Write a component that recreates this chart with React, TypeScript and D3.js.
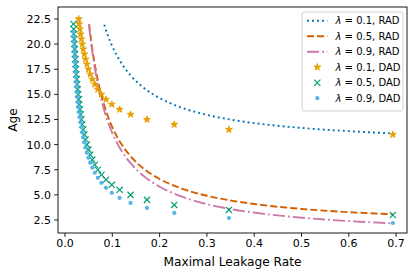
import React from "react";
import * as d3 from "d3";

// Discrete (DAD) leakage rates, shared by the three DAD series
const leakageRates = [
  0.6931, 0.3466, 0.231, 0.1733, 0.1386, 0.1155, 0.099, 0.0866, 0.077, 0.0693,
  0.063, 0.0578, 0.0533, 0.0495, 0.0462, 0.0433, 0.0408, 0.0385, 0.0365, 0.0347,
  0.033, 0.0315, 0.0301, 0.0289, 0.0277, 0.0267, 0.0257, 0.0248, 0.0239, 0.0231,
  0.0224, 0.0217, 0.021, 0.0204, 0.0198, 0.0193, 0.0187, 0.0182, 0.0178,
];
const ageDadL01 = [
  11.0, 11.5, 12.0, 12.5, 13.0, 13.5, 14.0, 14.5, 15.0, 15.5, 16.0, 16.5, 17.0,
  17.5, 18.0, 18.5, 19.0, 19.5, 20.0, 20.5, 21.0, 21.5, 22.0, 22.5,
];
const ageDadL05 = [
  3.0, 3.5, 4.0, 4.5, 5.0, 5.5, 6.0, 6.5, 7.0, 7.5, 8.0, 8.5, 9.0, 9.5, 10.0,
  10.5, 11.0, 11.5, 12.0, 12.5, 13.0, 13.5, 14.0, 14.5, 15.0, 15.5, 16.0, 16.5,
  17.0, 17.5, 18.0, 18.5, 19.0, 19.5, 20.0, 20.5, 21.0, 21.5, 22.0,
];
const ageDadL09 = [
  2.2, 2.7, 3.2, 3.7, 4.2, 4.7, 5.2, 5.7, 6.2, 6.7, 7.2, 7.7, 8.2, 8.7, 9.2,
  9.7, 10.2, 10.7, 11.2, 11.7, 12.2, 12.7, 13.2, 13.7, 14.2, 14.7, 15.2, 15.7,
  16.2, 16.7, 17.2, 17.7, 18.2, 18.7, 19.2, 19.7, 20.2, 20.7, 21.2,
];

// Continuous (RAD) curves
const radRateL01 = [0.083, 0.09, 0.1, 0.12, 0.14, 0.17, 0.2, 0.25, 0.3, 0.35, 0.4, 0.45, 0.5, 0.55, 0.6, 0.65, 0.693];
const radAgeL01 = [21.93, 20.93, 19.77, 18.04, 16.81, 15.52, 14.63, 13.62, 12.96, 12.49, 12.14, 11.87, 11.66, 11.48, 11.34, 11.21, 11.12];
const radRateL05 = [0.051, 0.055, 0.06, 0.07, 0.08, 0.09, 0.1, 0.12, 0.14, 0.17, 0.2, 0.25, 0.3, 0.35, 0.4, 0.5, 0.6, 0.693];
const radAgeL05 = [21.99, 20.45, 18.82, 16.27, 14.37, 12.9, 11.73, 10.0, 8.77, 7.47, 6.58, 5.57, 4.91, 4.44, 4.09, 3.6, 3.28, 3.07];
const radRateL09 = [0.0505, 0.055, 0.06, 0.07, 0.08, 0.09, 0.1, 0.12, 0.14, 0.17, 0.2, 0.25, 0.3, 0.35, 0.4, 0.5, 0.6, 0.693];
const radAgeL09 = [21.99, 20.18, 18.49, 15.85, 13.88, 12.36, 11.15, 9.35, 8.08, 6.74, 5.81, 4.77, 4.08, 3.59, 3.23, 2.73, 2.39, 2.17];

const xTicks = [0.0, 0.1, 0.2, 0.3, 0.4, 0.5, 0.6, 0.7];
const yTicks = [2.5, 5.0, 7.5, 10.0, 12.5, 15.0, 17.5, 20.0, 22.5];
const legendLambdas = ["0.1", "0.5", "0.9", "0.1", "0.5", "0.9"];
const legendKinds = ["RAD", "RAD", "RAD", "DAD", "DAD", "DAD"];

const W = 415, H = 277;
const L = 58, R = 407, T = 7, B = 233;
const FONT = "'DejaVu Sans', sans-serif";

const C_BLUE = "#0072B2", C_VERM = "#D55E00", C_PINK = "#CC79A7";
const C_ORANGE = "#E69F00", C_GREEN = "#009E73", C_SKY = "#56B4E9";
const LW = 1.9;

function starPath(cx: number, cy: number, r: number) {
  const ri = r * 0.382;
  const pts: [number, number][] = [];
  for (let i = 0; i < 10; i++) {
    const a = -Math.PI / 2 + (i * Math.PI) / 5;
    const rr = i % 2 === 0 ? r : ri;
    pts.push([cx + rr * Math.cos(a), cy + rr * Math.sin(a)]);
  }
  return "M" + pts.map((p) => p[0].toFixed(2) + "," + p[1].toFixed(2)).join("L") + "Z";
}

function Star({ x, y }: { x: number; y: number }) {
  return <path d={starPath(x, y, 3.6)} fill={C_ORANGE} stroke={C_ORANGE} strokeWidth={0.9} strokeLinejoin="miter" />;
}
function Cross({ x, y }: { x: number; y: number }) {
  const s = 3.1;
  return (
    <path d={`M${x - s},${y - s}L${x + s},${y + s}M${x - s},${y + s}L${x + s},${y - s}`} stroke={C_GREEN} strokeWidth={1.2} fill="none" />
  );
}
function Dot({ x, y }: { x: number; y: number }) {
  return <circle cx={x} cy={y} r={2.1} fill={C_SKY} />;
}

export default function App() {
  const x = d3.scaleLinear().domain([-0.0148, 0.723]).range([L, R]);
  const y = d3.scaleLinear().domain([1.206, 23.69]).range([B, T]);

  const line = d3
    .line<[number, number]>()
    .x((d) => x(d[0]))
    .y((d) => y(d[1]))
    .curve(d3.curveMonotoneX);

  const zip = (a: number[], b: number[]) => a.map((v, i) => [v, b[i]] as [number, number]);

  const legendY = (i: number) => 20.7 + i * 15.5;

  return (
    <svg width={W} height={H} style={{ position: "absolute", left: 0, top: 0, background: "#fff" }} fontFamily={FONT}>
      <rect x={0} y={0} width={W} height={H} fill="#fff" />
      {/* RAD curves */}
      <path d={line(zip(radRateL01, radAgeL01)) || ""} fill="none" stroke={C_BLUE} strokeWidth={LW} strokeDasharray={`${LW},${LW * 1.65}`} />
      <path d={line(zip(radRateL05, radAgeL05)) || ""} fill="none" stroke={C_VERM} strokeWidth={LW} strokeDasharray={`${LW * 3.7},${LW * 1.6}`} />
      <path d={line(zip(radRateL09, radAgeL09)) || ""} fill="none" stroke={C_PINK} strokeWidth={LW} strokeDasharray={`${LW * 6.4},${LW * 1.6},${LW},${LW * 1.6}`} />
      {/* DAD points */}
      {ageDadL01.map((a, i) => <Star key={"s" + i} x={x(leakageRates[i])} y={y(a)} />)}
      {ageDadL05.map((a, i) => <Cross key={"c" + i} x={x(leakageRates[i])} y={y(a)} />)}
      {ageDadL09.map((a, i) => <Dot key={"d" + i} x={x(leakageRates[i])} y={y(a)} />)}

      {/* frame */}
      <rect x={L} y={T} width={R - L} height={B - T} fill="none" stroke="#000" strokeWidth={0.9} />

      {/* x ticks */}
      {xTicks.map((t) => (
        <g key={"xt" + t}>
          <line x1={x(t)} x2={x(t)} y1={B} y2={B + 3.8} stroke="#000" strokeWidth={0.9} />
          <text x={x(t)} y={247.3} fontSize={11} textAnchor="middle" fill="#000">{t.toFixed(1)}</text>
        </g>
      ))}
      {/* y ticks */}
      {yTicks.map((t) => (
        <g key={"yt" + t}>
          <line x1={L - 3.8} x2={L} y1={y(t)} y2={y(t)} stroke="#000" strokeWidth={0.9} />
          <text x={51} y={y(t)} dy={4} fontSize={11} textAnchor="end" fill="#000">{t.toFixed(1)}</text>
        </g>
      ))}
      <text x={(L + R) / 2} y={266} fontSize={12.2} textAnchor="middle" fill="#000">Maximal Leakage Rate</text>
      <text transform={`translate(17,${(T + B) / 2}) rotate(-90)`} fontSize={12.2} textAnchor="middle" fill="#000">Age</text>

      {/* legend */}
      <rect x={302} y={12} width={101} height={99} rx={2.5} fill="#fff" fillOpacity={0.8} stroke="#ccc" strokeWidth={0.9} />
      <line x1={307} x2={327.5} y1={legendY(0)} y2={legendY(0)} stroke={C_BLUE} strokeWidth={LW} strokeDasharray={`${LW},${LW * 1.65}`} />
      <line x1={307} x2={327.5} y1={legendY(1)} y2={legendY(1)} stroke={C_VERM} strokeWidth={LW} strokeDasharray={`${LW * 3.7},${LW * 1.6}`} />
      <line x1={307} x2={327.5} y1={legendY(2)} y2={legendY(2)} stroke={C_PINK} strokeWidth={LW} strokeDasharray={`${LW * 6.4},${LW * 1.6},${LW},${LW * 1.6}`} />
      <Star x={317.3} y={legendY(3)} />
      <Cross x={317.3} y={legendY(4)} />
      <Dot x={317.3} y={legendY(5)} />
      {legendLambdas.map((lam, i) => (
        <text key={"lg" + i} x={335.5} y={legendY(i)} dy={3.6} fontSize={10} fill="#000">
          <tspan fontStyle="italic">λ</tspan>
          {` = ${lam}, ${legendKinds[i]}`}
        </text>
      ))}
    </svg>
  );
}
